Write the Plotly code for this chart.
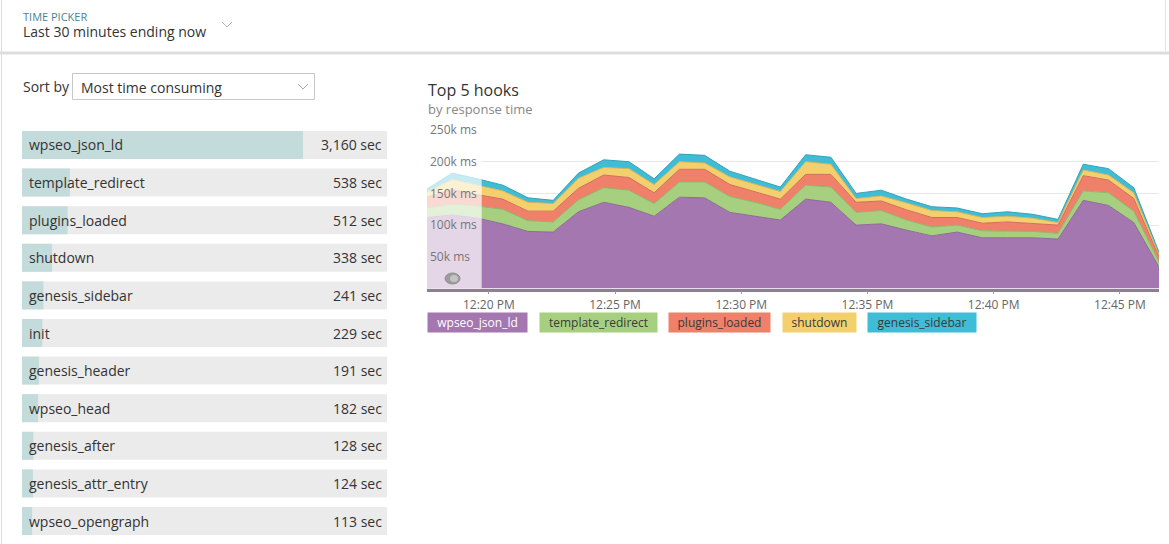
import plotly.graph_objects as go

W, H = 1169, 544
FONT = "Open Sans, sans-serif"

# ---------------- data ----------------
hook_names = ["wpseo_json_ld", "template_redirect", "plugins_loaded", "shutdown",
              "genesis_sidebar", "init", "genesis_header", "wpseo_head",
              "genesis_after", "genesis_attr_entry", "wpseo_opengraph"]
hook_secs = [3160, 538, 512, 338, 241, 229, 191, 182, 128, 124, 113]

# one sample per minute, 12:17:33 ... 12:46:33
times = ["2017-01-01 12:%02d:33" % m for m in range(17, 47)]

wpseo_json_ld = [112000, 116000, 111000, 102000, 90000, 89000, 121000, 136000, 128000, 114000,
                 144000, 143000, 120000, 114000, 108000, 141000, 136000, 100000, 102000, 92000,
                 83000, 89000, 80000, 80000, 80000, 78000, 139000, 131000, 104000, 34000]
template_redirect = [15000, 17000, 19000, 23000, 17000, 16000, 19000, 23000, 27000, 20000,
                     24000, 25000, 25000, 22000, 17000, 22000, 24000, 20000, 21000, 16000,
                     14000, 11000, 11000, 10000, 10000, 9000, 15000, 20000, 18000, 8000]
plugins_loaded = [17000, 23000, 18000, 16000, 15000, 17000, 18000, 20000, 20000, 17000,
                  20000, 20000, 19000, 17000, 16000, 17000, 20000, 16000, 15000, 16000,
                  15000, 12000, 12000, 15000, 13000, 13000, 24000, 20000, 20000, 8000]
shutdown = [8000, 16000, 15000, 13000, 14000, 12000, 16000, 12000, 14000, 13000,
            12000, 10000, 12000, 12000, 12000, 20000, 16000, 6000, 8000, 11000,
            11000, 9000, 9000, 9000, 8000, 4000, 9000, 8000, 9000, 4000]
genesis_sidebar = [5000, 10000, 10000, 9000, 7000, 5000, 8000, 12000, 11000, 9000,
                   12000, 12000, 9000, 8000, 7000, 11000, 11000, 8000, 9000, 6000,
                   6000, 6000, 6000, 7000, 6000, 5000, 9000, 10000, 8000, 3000]

series_names = ["wpseo_json_ld", "template_redirect", "plugins_loaded", "shutdown", "genesis_sidebar"]
series_values = [wpseo_json_ld, template_redirect, plugins_loaded, shutdown, genesis_sidebar]

y_tickvals = [50000, 100000, 150000, 200000, 250000]
y_ticktext = ["50k ms", "100k ms", "150k ms", "200k ms", "250k ms"]

faded_until = "2017-01-01 12:19:43"

# ---------------- styles ----------------
fill_colors = ["#a577b0", "#a6d07f", "#ef8069", "#f3cf6d", "#3fbcd6"]
edge_colors = ["#8c6a96", "#8fb56c", "#d06d5a", "#d6b45c", "#33a3ba"]
legend_text_colors = ["#ffffff", "#3a3a3a", "#3a3a3a", "#3a3a3a", "#3a3a3a"]
legend_widths = [99, 117, 101, 73, 108]
legend_gap = 12.5
BAR_TEAL = "#c4dbdb"
BAR_GRAY = "#ebebeb"
BAR_MAX = 4105


def px(x):
    return x / W


def py(y):
    return 1 - y / H


fig = go.Figure()

# stacked area chart
for name, vals, fc, ec in zip(series_names, series_values, fill_colors, edge_colors):
    fig.add_trace(go.Scatter(
        x=times, y=vals, name=name, mode="lines", stackgroup="hooks",
        line=dict(width=1, color=ec), fillcolor=fc, hoverinfo="skip",
        xaxis="x", yaxis="y", showlegend=False))

# faded (de-emphasised) window at the start
fig.add_trace(go.Scatter(
    x=[times[0], faded_until, faded_until, times[0]],
    y=[0, 0, y_tickvals[-1], y_tickvals[-1]],
    fill="toself", fillcolor="rgba(255,255,255,0.70)", mode="lines",
    line=dict(width=0), hoverinfo="skip", showlegend=False, xaxis="x", yaxis="y"))

# horizontal bar list
fig.add_trace(go.Bar(
    y=hook_names, x=[BAR_MAX] * len(hook_names), orientation="h",
    marker=dict(color=BAR_GRAY, line=dict(width=0)), hoverinfo="skip",
    xaxis="x2", yaxis="y2", showlegend=False))
fig.add_trace(go.Bar(
    y=hook_names, x=hook_secs, orientation="h",
    marker=dict(color=BAR_TEAL, line=dict(width=0)), hoverinfo="skip",
    xaxis="x2", yaxis="y2", showlegend=False))

annotations = []
for n, v in zip(hook_names, hook_secs):
    annotations.append(dict(x=0, y=n, xref="x2", yref="y2", text=n, showarrow=False,
                            xanchor="left", xshift=5, yanchor="middle",
                            font=dict(family=FONT, size=14, color="#333333")))
    annotations.append(dict(x=BAR_MAX, y=n, xref="x2", yref="y2", text=f"{v:,} sec",
                            showarrow=False, xanchor="right", xshift=-3, yanchor="middle",
                            font=dict(family=FONT, size=14, color="#333333")))

# legend chips
lx = 427
for name, fc, tc, w in zip(series_names, fill_colors, legend_text_colors, legend_widths):
    annotations.append(dict(x=px(lx), y=py(322.5), xref="paper", yref="paper", text=name,
                            showarrow=False, xanchor="left", yanchor="middle",
                            bgcolor=fc, width=w, height=19, borderpad=0, align="center",
                            font=dict(family=FONT, size=12, color=tc)))
    lx += w + legend_gap


# text in header / panel
def label(x, y, text, size, color, anchor="left"):
    annotations.append(dict(x=px(x), y=py(y), xref="paper", yref="paper", text=text,
                            showarrow=False, xanchor=anchor, yanchor="middle",
                            font=dict(family=FONT, size=size, color=color)))


label(21, 16.5, "TIME PICKER", 11, "#4d7f92")
label(21, 31.5, "Last 30 minutes ending now", 14, "#333333")
label(21, 86, "Sort by", 14, "#333333")
label(79, 87, "Most time consuming", 14, "#333333")
label(426, 89.5, "Top 5 hooks", 16, "#333333")
label(426, 108.5, "by response time", 13, "#888888")

shapes = [
    # header separator
    dict(type="rect", xref="paper", yref="paper", x0=0, x1=1, y0=py(54.5), y1=py(51.5),
         fillcolor="#dddddd", line=dict(width=0), layer="below"),
    # left border
    dict(type="line", xref="paper", yref="paper", x0=px(1.5), x1=px(1.5), y0=0, y1=1,
         line=dict(color="#dcdcdc", width=1)),
    # right header border
    dict(type="line", xref="paper", yref="paper", x0=px(1165.5), x1=px(1165.5), y0=py(51), y1=1,
         line=dict(color="#e4e4e4", width=1)),
    # time picker chevron
    dict(type="path", xref="paper", yref="paper",
         path=f"M {px(222)} {py(22)} L {px(227)} {py(27)} L {px(232)} {py(22)}",
         line=dict(color="#b5b5b5", width=1)),
    # sort dropdown box
    dict(type="rect", xref="paper", yref="paper", x0=px(72.5), x1=px(314.5), y0=py(99.5), y1=py(73.5),
         line=dict(color="#c8c8c8", width=1), fillcolor="rgba(0,0,0,0)"),
    dict(type="path", xref="paper", yref="paper",
         path=f"M {px(298)} {py(84)} L {px(303)} {py(89)} L {px(308)} {py(84)}",
         line=dict(color="#a8a8a8", width=1)),
    # eye icon in the faded window
    dict(type="circle", xref="paper", yref="paper", x0=px(445), x1=px(460), y0=py(284), y1=py(273),
         fillcolor="#9c9c9c", line=dict(color="#8f8f8f", width=1), layer="above"),
    dict(type="circle", xref="paper", yref="paper", x0=px(450), x1=px(458), y0=py(282), y1=py(275),
         fillcolor="#c4c4c4", line=dict(width=0), layer="above"),
]

n_rows = len(hook_names)
row_pitch = 37.6
row_top = 145 - row_pitch / 2

fig.update_layout(
    width=W, height=H, margin=dict(l=0, r=0, t=0, b=0, pad=0, autoexpand=False),
    paper_bgcolor="white", plot_bgcolor="white",
    font=dict(family=FONT, color="#333333"),
    showlegend=False, barmode="overlay", bargap=1 - 28 / row_pitch,
    xaxis=dict(domain=[px(427), px(1159)], type="date", automargin=False,
               range=[times[0], times[-1]],
               tick0="2017-01-01 12:20:00", dtick=300000, tickformat="%-I:%M %p",
               ticks="outside", ticklen=3, tickcolor="#9a9a9a",
               showline=True, linecolor="#8d7f91", linewidth=2.5,
               showgrid=False, zeroline=False,
               tickfont=dict(family=FONT, size=12, color="#666666"), fixedrange=True),
    yaxis=dict(domain=[py(288.5), py(130)], range=[0, 250000], automargin=False,
               tickvals=y_tickvals, ticktext=y_ticktext,
               ticklabelposition="inside", ticklabeloverflow="allow", ticks="",
               showgrid=True, gridcolor="#e8e8e8", gridwidth=1, zeroline=False,
               showline=False,
               tickfont=dict(family=FONT, size=12, color="#777777"), fixedrange=True),
    xaxis2=dict(domain=[px(22), px(387)], range=[0, BAR_MAX], visible=False,
                automargin=False, fixedrange=True),
    yaxis2=dict(domain=[py(row_top + n_rows * row_pitch), py(row_top)], automargin=False,
                range=[n_rows - 0.5, -0.5], type="category", visible=False, fixedrange=True),
    annotations=annotations, shapes=shapes,
)

fig.write_html("out.html")
